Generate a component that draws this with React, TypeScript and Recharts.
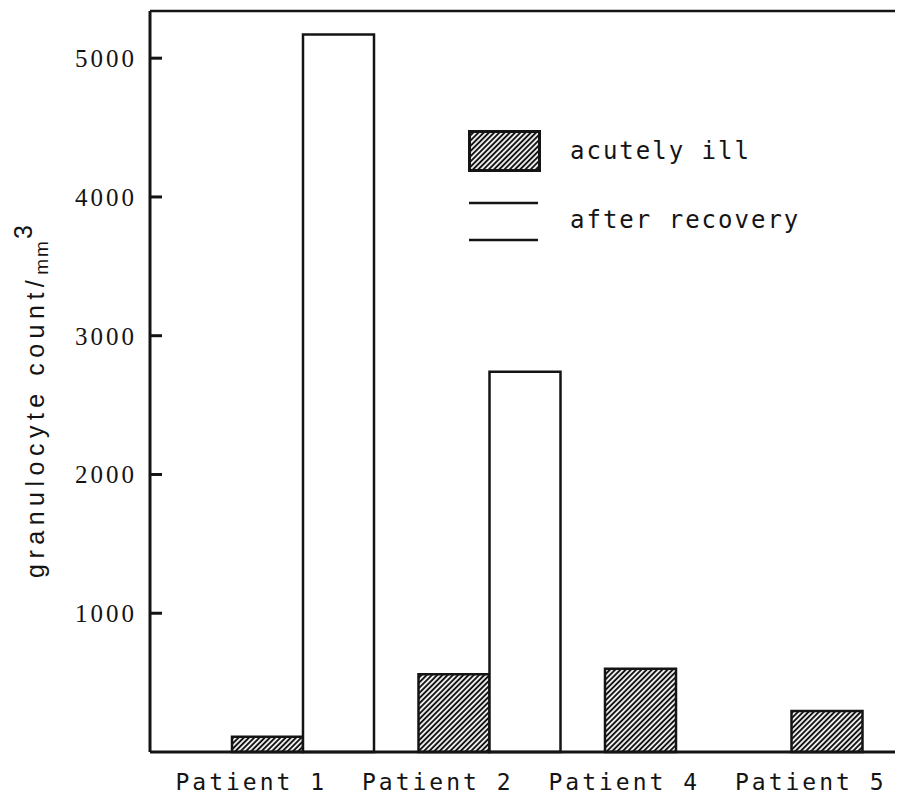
import { BarChart, Bar, XAxis, YAxis, ReferenceLine, Legend } from "recharts";

const patients = ["Patient 1", "Patient 2", "Patient 4", "Patient 5"];
const acutelyIll = [110, 560, 600, 295];
const afterRecovery = [5170, 2740, null, null];
const seriesNames = ["acutely ill", "after recovery"];
const yTicks = [1000, 2000, 3000, 4000, 5000];
const Y_MAX = 5340;

const data = patients.map((patient, i) => ({
  patient,
  acute: acutelyIll[i],
  recovery: afterRecovery[i],
}));

const INK = "#141414";
const MONO = "'DejaVu Sans Mono', monospace";

// diagonal "////" shading used for the acute bars
function Hatch({ id }: { id: string }) {
  const s = 3.7;
  return (
    <pattern
      id={id}
      width={s}
      height={s}
      patternUnits="userSpaceOnUse"
      patternTransform="rotate(45)"
    >
      <rect width={s} height={s} fill="#fff" />
      <line x1={s / 2} y1={0} x2={s / 2} y2={s} stroke={INK} strokeWidth={2} />
    </pattern>
  );
}

function PatientTick({ x, y, payload }: any) {
  return (
    <text
      x={x - 52}
      y={y}
      dy="0.71em"
      textAnchor="middle"
      fontFamily={MONO}
      fontSize={23}
      letterSpacing={3}
      fill={INK}
    >
      {payload.value}
    </text>
  );
}

function YLabel({ viewBox }: any) {
  const vb = viewBox ?? { x: 0, y: 3, width: 142, height: 741 };
  const x = vb.x + 36;
  const y = vb.y + vb.height - 174;
  return (
    <text
      x={x}
      y={y}
      transform={`rotate(-90, ${x}, ${y})`}
      fontFamily="'Liberation Sans', sans-serif"
      fontSize={25}
      letterSpacing={5.5}
      fill={INK}
    >
      granulocyte count/
      <tspan fontSize={19} dy={4} letterSpacing={2}>
        mm
      </tspan>
      <tspan fontSize={25} dy={-16}>
        3
      </tspan>
    </text>
  );
}

function LegendBox() {
  const textStyle = {
    fontFamily: MONO,
    fontSize: 24,
    letterSpacing: 2,
    fill: INK,
  };
  return (
    <svg width={380} height={115}>
      <defs>
        <Hatch id="hatch-key" />
      </defs>
      <rect
        x={1.5}
        y={1.5}
        width={70}
        height={39}
        fill="url(#hatch-key)"
        stroke={INK}
        strokeWidth={3}
      />
      <text x={102} y={29} style={textStyle}>
        {seriesNames[0]}
      </text>
      <line x1={1} x2={70} y1={73} y2={73} stroke={INK} strokeWidth={2.5} />
      <line x1={1} x2={70} y1={110} y2={110} stroke={INK} strokeWidth={2.5} />
      <text x={102} y={98} style={textStyle}>
        {seriesNames[1]}
      </text>
    </svg>
  );
}

export default function App() {
  return (
    <div style={{ width: 895, height: 793, overflow: "hidden", background: "#fff" }}>
      <BarChart
        width={948}
        height={790}
        data={data}
        margin={{ top: 3, right: 0, bottom: 0, left: 0 }}
        barGap={0}
        barSize={71}
      >
        <defs>
          <Hatch id="hatch-bar" />
        </defs>
        <XAxis
          dataKey="patient"
          interval={0}
          height={46}
          padding={{ left: 60, right: 0 }}
          axisLine={{ stroke: INK, strokeWidth: 3 }}
          tickLine={false}
          tickSize={0}
          tickMargin={22}
          tick={(props: any) => <PatientTick {...props} />}
        />
        <YAxis
          type="number"
          domain={[0, Y_MAX]}
          ticks={yTicks}
          width={142}
          axisLine={{ stroke: INK, strokeWidth: 3 }}
          tickLine={{ stroke: INK, strokeWidth: 3 }}
          tickSize={-12}
          tickMargin={25}
          tick={{
            fill: INK,
            fontSize: 25,
            fontFamily: "'Liberation Serif', serif",
            letterSpacing: 3,
          }}
          label={(props: any) => <YLabel {...props} />}
        />
        <ReferenceLine y={Y_MAX} stroke={INK} strokeWidth={2.5} />
        <Legend
          layout="vertical"
          align="center"
          verticalAlign="middle"
          wrapperStyle={{ left: 460, top: 122, width: 380 }}
          content={() => <LegendBox />}
        />
        <Bar
          dataKey="acute"
          name={seriesNames[0]}
          fill="url(#hatch-bar)"
          stroke={INK}
          strokeWidth={2.5}
          isAnimationActive={false}
        />
        <Bar
          dataKey="recovery"
          name={seriesNames[1]}
          fill="#fff"
          stroke={INK}
          strokeWidth={2.5}
          isAnimationActive={false}
        />
      </BarChart>
    </div>
  );
}
